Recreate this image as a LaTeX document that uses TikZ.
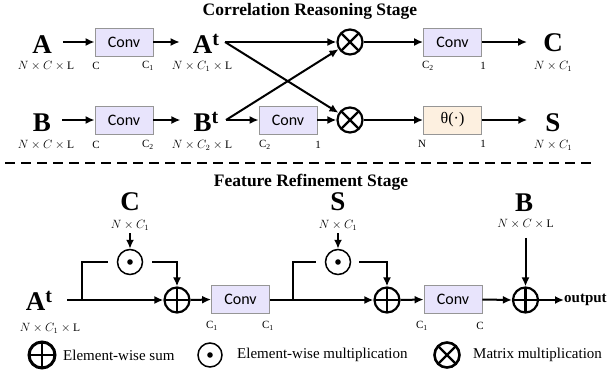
\documentclass[tikz,border=0pt]{standalone}
\usepackage{fontspec}
\setmainfont{Liberation Serif}
\newfontfamily\calibri{Carlito}
\usetikzlibrary{arrows.meta}
\definecolor{convfill}{RGB}{232,228,252}
\definecolor{thfill}{RGB}{253,240,224}
\definecolor{boxline}{RGB}{150,150,150}
\newcommand\withT[1]{#1\raisebox{8pt}{\fontsize{20}{20}\selectfont t}}

\begin{document}
\begin{tikzpicture}[x=1pt,y=-1pt,
  every node/.style={inner sep=0pt},
  title/.style={font=\fontsize{17.5}{17.5}\selectfont\bfseries},
  big/.style={anchor=base,font=\fontsize{27}{27}\selectfont\bfseries},
  dim/.style={font=\fontsize{11.5}{12}\selectfont},
  ch/.style={font=\fontsize{11}{11}\selectfont},
  legend/.style={anchor=west,font=\fontsize{15}{15}\selectfont},
  blk/.style={draw=boxline,line width=0.8pt,minimum width=58pt,minimum height=28pt,
    font=\calibri\fontsize{16}{16}\selectfont},
  conv/.style={blk,fill=convfill},
  thbox/.style={blk,fill=thfill,font=\fontsize{16}{16}\selectfont},
  arr/.style={line width=2pt,-{Latex[length=9pt,width=8pt]}},
  wire/.style={line width=2pt},
  opc/.style={circle,draw,line width=2.2pt,minimum size=25pt},
  mmul/.style={opc,path picture={\draw[line width=2.2pt]
      (path picture bounding box.center) +(45:14pt) -- +(225:14pt)
      (path picture bounding box.center) +(135:14pt) -- +(315:14pt);}},
  esum/.style={opc,path picture={\draw[line width=2.2pt]
      (path picture bounding box.center) +(0pt,14pt) -- +(0pt,-14pt)
      (path picture bounding box.center) +(14pt,0pt) -- +(-14pt,0pt);}},
  emul/.style={opc,line width=1.5pt,path picture={\fill
      (path picture bounding box.center) circle[radius=2.8pt];}},
]
\useasboundingbox (0,0) rectangle (613,381);

% stage titles
\node[title] (t1) at (310,11) {Correlation Reasoning Stage};
\node[title] (t2) at (311,182) {Feature Refinement Stage};

% ---------- correlation reasoning: upper row ----------
\node[big] (A) at (42,53) {A};
\node[dim] (Ad) at (46,66) {$N\times C\times\mathrm{L}$};
\node[conv] (cv1) at (124,42) {Conv};
\node[ch] (cv1i) at (96,66) {C};
\node[ch] (cv1o) at (148,66) {C\textsubscript{1}};
\node[big] (At) at (206,53) {\withT{A}};
\node[dim] (Atd) at (202,66) {$N\times C_1\times\mathrm{L}$};
\node[mmul] (X1) at (350,42) {};
\node[conv] (cv3) at (452.5,42) {Conv};
\node[ch] (cv3i) at (428,66) {C\textsubscript{2}};
\node[ch] (cv3o) at (483,66) {1};
\node[big] (C) at (553,51) {C};
\node[dim] (Cd) at (553,66) {$N\times C_1$};

% ---------- correlation reasoning: lower row ----------
\node[big] (B) at (42,131) {B};
\node[dim] (Bd) at (46,145) {$N\times C\times\mathrm{L}$};
\node[conv] (cv2) at (124,120) {Conv};
\node[ch] (cv2i) at (96,145) {C};
\node[ch] (cv2o) at (148,145) {C\textsubscript{2}};
\node[big] (Bt) at (206,131) {\withT{B}};
\node[dim] (Btd) at (202,145) {$N\times C_2\times\mathrm{L}$};
\node[conv] (cv4) at (288,120) {Conv};
\node[ch] (cv4i) at (265,145) {C\textsubscript{2}};
\node[ch] (cv4o) at (318,145) {1};
\node[mmul] (X2) at (350,120) {};
\node[thbox] (th) at (452.5,120) {θ(·)};
\node[ch] (thi) at (422,144) {N};
\node[ch] (tho) at (483,144) {1};
\node[big] (S) at (553,131) {S};
\node[dim] (Sd) at (553,145) {$N\times C_1$};

\coordinate (Aout) at (225,42);
\coordinate (Bout) at (226,120);

\draw[arr,shorten <=11pt] (A.east |- cv1.west) -- (cv1.west);
\draw[arr,shorten >=13pt] (cv1.east) -- (At.west |- cv1.east);
\draw[arr] (Aout) -- (X1.west);
\draw[arr] (Aout) -- (X2);
\draw[arr] (X1.east) -- (cv3.west);
\draw[arr,shorten >=16pt] (cv3.east) -- (C.west |- cv3.east);

\draw[arr,shorten <=11pt] (B.east |- cv2.west) -- (cv2.west);
\draw[arr,shorten >=13pt] (cv2.east) -- (Bt.west |- cv2.east);
\draw[arr] (Bout) -- (X1);
\draw[arr] (Bout) -- (cv4.west);
\draw[arr] (cv4.east) -- (X2.west);
\draw[arr] (X2.east) -- (th.west);
\draw[arr,shorten >=18pt] (th.east) -- (S.west |- th.east);

% separator
\draw[line width=2pt,dash pattern=on 10pt off 6pt] (5,163) -- (594,163);

% ---------- feature refinement ----------
\node[big] (Cb) at (130,210) {C};
\node[dim] (Cbd) at (130,225) {$N\times C_1$};
\node[emul] (D1) at (130,262) {};
\node[esum] (P1) at (177,300) {};
\node[big] (Atb) at (39,310) {\withT{A}};
\node[dim] (Atbd) at (50,328) {$N\times C_1\times\mathrm{L}$};
\node[conv] (cv5) at (240.5,299.5) {Conv};
\node[ch] (cv5i) at (212,326) {C\textsubscript{1}};
\node[ch] (cv5o) at (268,326) {C\textsubscript{1}};
\node[big] (Sb) at (338,210) {S};
\node[dim] (Sbd) at (338,225) {$N\times C_1$};
\node[emul] (D2) at (338,262) {};
\node[esum] (P2) at (387,300) {};
\node[conv] (cv6) at (453,299.5) {Conv};
\node[ch] (cv6i) at (422,326) {C\textsubscript{1}};
\node[ch] (cv6o) at (480,326) {C};
\node[big] (Bb) at (524,211) {B};
\node[dim] (Bbd) at (525.5,224) {$N\times C\times\mathrm{L}$};
\node[esum] (P3) at (525.5,300) {};
\node[anchor=west,font=\fontsize{15}{15}\selectfont\bfseries] (out) at (564,300) {output};

\coordinate (br1) at (82,300);
\coordinate (br2) at (293,300);

\draw[arr,shorten <=15pt] (Atb.east |- P1.west) -- (P1.west);
\draw[wire,shorten >=9pt] (br1) |- (D1.west);
\draw[arr,shorten <=9pt] (D1.east) -| (P1.north);
\draw[arr,shorten <=3pt] (Cbd.south) -- (D1.north);
\draw[arr] (P1.east) -- (cv5.west);
\draw[arr] (cv5.east |- P2.west) -- (P2.west);
\draw[wire,shorten >=9pt] (br2) |- (D2.west);
\draw[arr,shorten <=8pt] (D2.east) -| (P2.north);
\draw[arr,shorten <=3pt] (Sbd.south) -- (D2.north);
\draw[arr] (P2.east) -- (cv6.west);
\draw[arr] (cv6.east) -- (P3.west);
\draw[arr,shorten <=9pt] (Bbd.south) -- (P3.north);
\draw[arr] (P3.east) -- (out.west);

% legend
\node[esum,line width=3pt,minimum size=26pt] (L1) at (42,355) {};
\node[legend] (L1t) at (63,355) {Element-wise sum};
\node[emul,minimum size=24pt] (L2) at (210,355) {};
\node[legend] (L2t) at (237,355) {Element-wise multiplication};
\node[mmul,line width=2.6pt] (L3) at (447,355) {};
\node[legend] (L3t) at (473,355) {Matrix multiplication};
\end{tikzpicture}
\end{document}
